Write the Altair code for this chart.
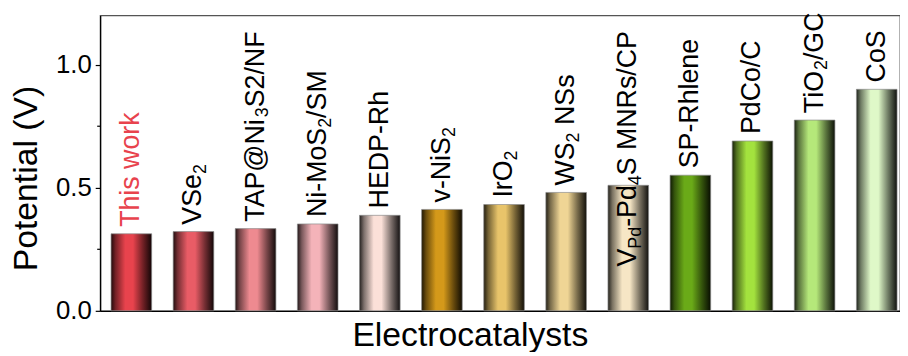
import altair as alt
import pandas as pd

# ---- data ----
categories = ["This work", "VSe2", "TAP@Ni3S2/NF", "Ni-MoS2/SM", "HEDP-Rh", "v-NiS2",
              "IrO2", "WS2 NSs", "VPd-Pd4S MNRs/CP", "SP-Rhlene", "PdCo/C", "TiO2/GC", "CoS"]
values = [0.313, 0.322, 0.334, 0.353, 0.388, 0.412, 0.432, 0.481, 0.510, 0.551, 0.690, 0.775, 0.900]
bar_colors = ["#e8434d", "#e95c66", "#ee8a90", "#f4b3b9", "#fbe0d8", "#d4991a", "#e8c46a",
              "#efd595", "#f6e6c5", "#6aaa18", "#a3e23e", "#b5e87a", "#dff8c8"]
# label segments: (text, is_subscript)
label_parts = [
    [("This work", 0)],
    [("VSe", 0), ("2", 1)],
    [("TAP@Ni", 0), ("3", 1), ("S2/NF", 0)],
    [("Ni-MoS", 0), ("2", 1), ("/SM", 0)],
    [("HEDP-Rh", 0)],
    [("v-NiS", 0), ("2", 1)],
    [("IrO", 0), ("2", 1)],
    [("WS", 0), ("2", 1), (" NSs", 0)],
    [("V", 0), ("Pd", 1), ("-Pd", 0), ("4", 1), ("S MNRs/CP", 0)],
    [("SP-Rhlene", 0)],
    [("PdCo/C", 0)],
    [("TiO", 0), ("2", 1), ("/GC", 0)],
    [("CoS", 0)],
]
label_colors = ["#e8434d"] + ["#000000"] * 12
label_start_override = {"VPd-Pd4S MNRs/CP": 0.18}
y_ticks = [0.0, 0.5, 1.0]
y_minor = [0.25, 0.75]

# ---- layout ----
W, H = 807, 298
YMAX = 1.2
FONT = "Liberation Sans"
FS_MAIN, FS_SUB = 27, 18
GAP = 7
ppu = H / YMAX

# Arial / Liberation Sans advance widths (per 1000 em)
AW = {" ": 278, "-": 333, "/": 278, "@": 1015, "A": 667, "C": 722, "D": 722,
      "E": 667, "F": 611, "G": 778, "H": 722, "I": 278, "M": 833, "N": 722, "O": 778, "P": 667,
      "R": 722, "S": 667, "T": 611, "V": 667, "W": 944, "a": 556, "c": 500, "d": 556, "e": 556,
      "h": 556, "i": 222, "k": 500, "l": 222, "n": 556, "o": 556, "r": 333, "s": 500, "w": 722,
      "v": 500}


def text_w(s, fs):
    return sum(AW.get(ch, 556) for ch in s) * fs / 1000.0


main_rows, sub_rows = [], []
for cat, val, parts, col in zip(categories, values, label_parts, label_colors):
    start = label_start_override.get(cat, val + GAP / ppu)
    off = 0.0
    for txt, sub in parts:
        fs = FS_SUB if sub else FS_MAIN
        lead = len(txt) - len(txt.lstrip(" "))
        off += text_w(" " * lead, fs)
        t = txt.lstrip(" ")
        row = {"cat": cat, "val": start + off / ppu, "txt": t, "col": col}
        (sub_rows if sub else main_rows).append(row)
        off += text_w(t, fs)

df_bars = pd.DataFrame({"cat": categories, "val": values})
df_main = pd.DataFrame(main_rows)
df_sub = pd.DataFrame(sub_rows)
df_minor = pd.DataFrame({"val": y_minor})

x_enc = alt.X("cat:N", sort=categories,
              scale=alt.Scale(domain=categories, paddingInner=0.346, paddingOuter=0.1115, align=0.786),
              axis=alt.Axis(title="Electrocatalysts", labels=False, ticks=False, domainColor="black",
                            domainWidth=1.3, titleFontSize=34, titleFont=FONT, titleFontWeight="normal",
                            titleColor="black", titleX=373, titleY=35, titleBaseline="alphabetic",
                            titleAlign="center"))
y_scale = alt.Scale(domain=[0, YMAX], nice=False, zero=True)
y_axis = alt.Axis(title="Potential (V)", values=y_ticks, format=".1f", grid=False,
                  labelFontSize=26, labelFont=FONT, labelColor="black", labelPadding=4,
                  tickSize=5, tickColor="black", tickWidth=1.2, domainColor="black", domainWidth=1.3,
                  titleFontSize=34, titleFont=FONT, titleFontWeight="normal", titleColor="black",
                  titleAngle=270, titleX=-64, titleY=164, titleBaseline="alphabetic", titleAlign="center")
y_enc = alt.Y("val:Q", scale=y_scale, axis=y_axis)


def shade(hexc, t):
    r, g, b = int(hexc[1:3], 16), int(hexc[3:5], 16), int(hexc[5:7], 16)
    f = 1 - t
    return "#%02x%02x%02x" % (int(r * f), int(g * f), int(b * f))


layers = []
for cat, c in zip(categories, bar_colors):
    grad = alt.LinearGradient(
        gradient="linear", x1=0, x2=1, y1=0, y2=0,
        stops=[alt.GradientStop(color=shade(c, 0.85), offset=0),
               alt.GradientStop(color=shade(c, 0.5), offset=0.11),
               alt.GradientStop(color=c, offset=0.35),
               alt.GradientStop(color=c, offset=0.54),
               alt.GradientStop(color=shade(c, 0.5), offset=0.78),
               alt.GradientStop(color=shade(c, 0.92), offset=1)])
    layers.append(
        alt.Chart(df_bars).transform_filter(alt.datum.cat == cat)
        .mark_bar(fill=grad, stroke="#8c8c8c", strokeWidth=0.7)
        .encode(x=x_enc, y=y_enc)
    )

main_text = alt.Chart(df_main).mark_text(angle=270, align="left", baseline="middle",
                                         fontSize=FS_MAIN, font=FONT).encode(
    x=x_enc, y=y_enc, text="txt:N", color=alt.Color("col:N", scale=None))
sub_text = alt.Chart(df_sub).mark_text(angle=270, align="left", baseline="middle",
                                       fontSize=FS_SUB, font=FONT, dy=8).encode(
    x=x_enc, y=y_enc, text="txt:N", color=alt.Color("col:N", scale=None))
minor = alt.Chart(df_minor).mark_rule(color="black", strokeWidth=1.2).encode(
    y=y_enc, x=alt.value(0), x2=alt.value(-3))

chart = alt.layer(*layers, main_text, sub_text, minor).properties(
    width=W, height=H,
    padding={"left": 93, "top": 6, "right": 0, "bottom": 40},
    autosize=alt.AutoSizeParams(type="none"),
).configure_view(stroke="#555555", strokeWidth=1.3)

chart.save("out.html", embed_options={"renderer": "svg", "actions": False})
